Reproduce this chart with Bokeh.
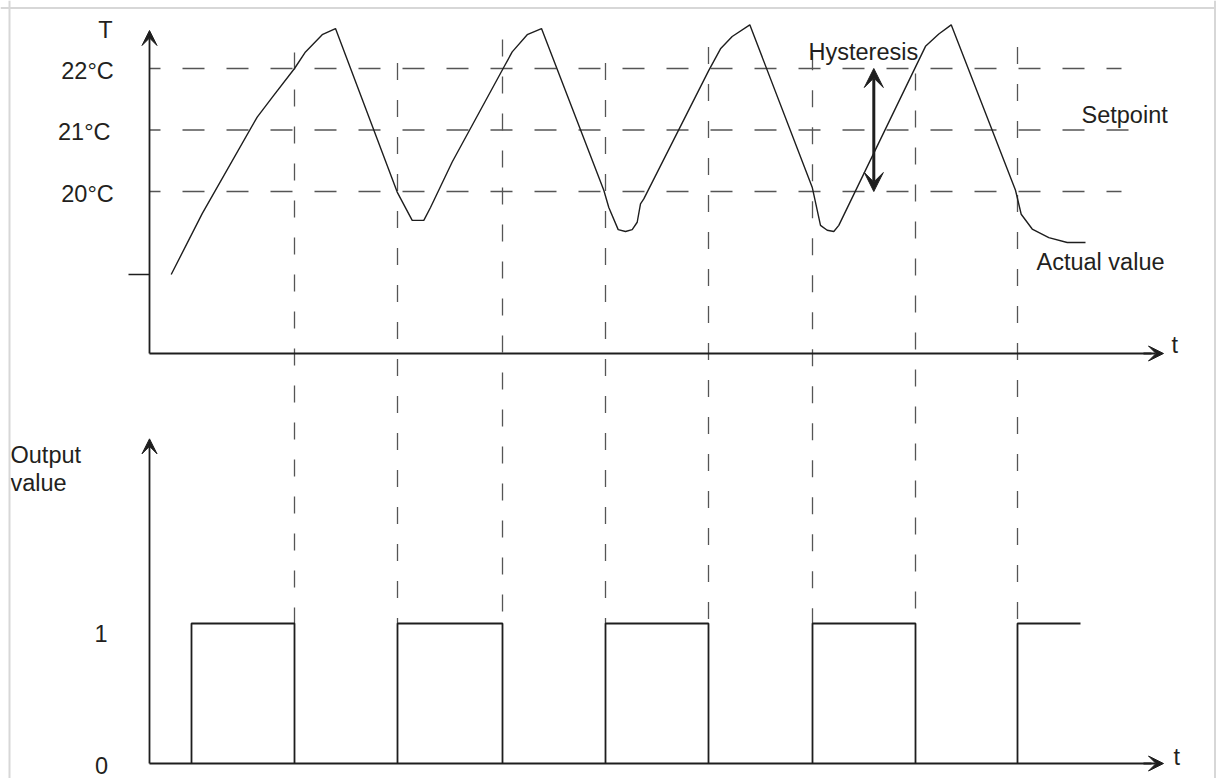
from bokeh.plotting import figure
from bokeh.models import Range1d, Arrow, VeeHead, Span
from bokeh.core.properties import value
from bokeh.embed import file_html
from bokeh.resources import INLINE

# ---------------- data ----------------
# actual temperature curve (time units, °C)
time_actual = [2.17, 5.27, 10.77, 12.27, 14.5, 15.6, 17.27, 18.6, 24.77, 26.27, 27.43,
               28.1, 30.27, 35.43, 36.27, 37.77, 39.2, 45.43, 45.93, 46.87, 47.6, 48.27,
               48.77, 49.1, 49.43, 55.93, 57.1, 58.27, 60.03, 66.27, 67.1, 67.77, 68.43,
               68.93, 77.6, 78.93, 80.17, 86.6, 87.17, 88.27, 89.93, 91.77, 93.6]
temp_actual = [18.65, 19.64, 21.21, 21.53, 22.0, 22.27, 22.55, 22.65, 19.99, 19.53, 19.53,
               19.74, 20.48, 22.02, 22.27, 22.55, 22.65, 20.02, 19.74, 19.38, 19.35, 19.38,
               19.50, 19.80, 19.88, 21.97, 22.32, 22.52, 22.71, 20.07, 19.45, 19.37, 19.35,
               19.45, 22.36, 22.56, 22.71, 20.02, 19.63, 19.39, 19.25, 19.17, 19.17]
# two-step controller output
switch_on = [4.2, 24.8, 45.6, 66.3, 86.8]
switch_off = [14.5, 35.3, 55.9, 76.6]
last_end = 93.1
# temperature levels
levels = [22, 21, 20]
level_labels = ["22°C", "21°C", "20°C"]
start_temp = 18.65
out_labels = ["1", "0"]
out_levels = [1, 0]
hyst_low, hyst_high = 20, 22

# ---------------- styles ----------------
W, H = 1216, 778
FONT = value("Liberation Sans")
FS = value("23.5px")
TXT = "#231f20"
INK = "#1e1e1e"
DASH = "#555555"

x_range = Range1d(-14.9, 106.7)          # 10 px per time unit, axis origin at 0
t_range = Range1d(10.4553, 23.1057)      # 61.5 px per °C
o_range = Range1d(-0.10714, 5.45)        # 140 px per output unit

px_t = W / (x_range.end - x_range.start)
px_T = H / (t_range.end - t_range.start)
px_o = H / (o_range.end - o_range.start)


def out_to_temp(o):
    return t_range.start + (o - o_range.start) * px_o / px_T


p = figure(width=W, height=H, x_range=x_range, y_range=t_range,
           x_axis_type=None, y_axis_type=None, toolbar_location=None,
           output_backend="svg", min_border=0)
p.extra_y_ranges = {"out": o_range}
p.grid.visible = False
p.outline_line_color = None
p.background_fill_color = "white"
p.border_fill_color = "white"

# page border
border = dict(line_color="#d7d7d7", line_width=2)
p.add_layout(Span(location=x_range.start + 9 / px_t, dimension="height", **border))
p.add_layout(Span(location=t_range.end - 7.5 / px_T, dimension="width", **border))
p.add_layout(Span(location=x_range.end - 1.5 / px_t, dimension="height", **border))

# ---------------- top chart ----------------
t_axis_y = 17.366   # level of the time axis (°C scale)
x_tip = 101.4

# horizontal dashed setpoint lines
h_ends = [97.2, 100.1, 97.2]
p.segment(x0=[0] * 3, y0=levels, x1=h_ends, y1=levels, line_color=DASH,
          line_width=1.3, line_dash="22 22", line_dash_offset=11)

# vertical dashed switching lines (through both charts)
switch_times = sorted(switch_off + switch_on[1:])
dash_tops = [22.26, 22.09, 22.47, 22.09, 22.35, 22.25, 21.92, 22.35]
p.segment(x0=switch_times, y0=dash_tops, x1=switch_times,
          y1=[out_to_temp(1)] * len(switch_times), line_color=DASH,
          line_width=1.3, line_dash="17 20")

# actual value curve
p.line(time_actual, temp_actual, line_color=INK, line_width=1.4)

# axes
p.segment(x0=[0], y0=[t_axis_y], x1=[x_tip - 1.2], y1=[t_axis_y], line_color=INK, line_width=1.8)
p.add_layout(Arrow(x_start=0, y_start=t_axis_y, x_end=0, y_end=22.618,
                   line_color=INK, line_width=1.8,
                   end=VeeHead(size=15, fill_color=INK, line_color=INK, line_width=1)))
p.add_layout(Arrow(x_start=x_tip - 2, y_start=t_axis_y, x_end=x_tip, y_end=t_axis_y,
                   line_color=INK, line_width=1.8,
                   end=VeeHead(size=15, fill_color=INK, line_color=INK, line_width=1)))
# unlabeled tick at start temperature
p.segment(x0=[-2.1], y0=[start_temp], x1=[0], y1=[start_temp], line_color=INK, line_width=1.5)

# hysteresis double arrow
hx = 72.43
p.add_layout(Arrow(x_start=hx, y_start=hyst_low, x_end=hx, y_end=hyst_high,
                   line_color=INK, line_width=3,
                   start=VeeHead(size=19, fill_color=INK, line_color=INK, line_width=1),
                   end=VeeHead(size=19, fill_color=INK, line_color=INK, line_width=1)))

# texts (top)
p.text(x=[-3.57, -3.9, -3.57], y=[lv - 2 / px_T for lv in levels], text=level_labels,
       text_align="right", text_baseline="alphabetic", text_font=FONT,
       text_font_size=FS, text_color=TXT)
p.text(x=[-4.4], y=[22.618], text=["T"], text_align="center", text_baseline="alphabetic",
       text_font=FONT, text_font_size=FS, text_color=TXT)
p.text(x=[65.9, 93.2, 88.7, 102.2], y=[22.276, 21.236, 18.846, 17.51],
       text=["Hysteresis", "Setpoint", "Actual value", "t"],
       text_align="left", text_baseline="alphabetic", text_font=FONT,
       text_font_size=FS, text_color=TXT)

# ---------------- bottom chart ----------------
# pulses
xs = [[on, on, off, off] for on, off in zip(switch_on, switch_off)]
ys = [[0, 1, 1, 0] for _ in switch_off]
xs.append([switch_on[-1], switch_on[-1], last_end])
ys.append([0, 1, 1])
p.multi_line(xs, ys, line_color=INK, line_width=1.8, y_range_name="out")

# axes
p.segment(x0=[0], y0=[0], x1=[x_tip - 1.2], y1=[0], line_color=INK, line_width=1.8,
          y_range_name="out")
p.add_layout(Arrow(x_start=0, y_start=0, x_end=0, y_end=2.319, y_range_name="out",
                   line_color=INK, line_width=1.8,
                   end=VeeHead(size=15, fill_color=INK, line_color=INK, line_width=1)))
p.add_layout(Arrow(x_start=x_tip - 2, y_start=0, x_end=x_tip, y_end=0, y_range_name="out",
                   line_color=INK, line_width=1.8,
                   end=VeeHead(size=15, fill_color=INK, line_color=INK, line_width=1)))

# texts (bottom)
p.text(x=[-4.85, -4.8], y=[lv - 10 / px_o if lv else -2 / px_o for lv in out_levels],
       text=out_labels, text_align="center", text_baseline="alphabetic",
       text_font=FONT, text_font_size=FS, text_color=TXT, y_range_name="out")
p.text(x=[-13.9, -13.9, 102.4], y=[2.207, 2.007, 0.043], text=["Output", "value", "t"],
       text_align="left", text_baseline="alphabetic", text_font=FONT,
       text_font_size=FS, text_color=TXT, y_range_name="out")

open("out.html", "w").write(file_html(p, INLINE))
